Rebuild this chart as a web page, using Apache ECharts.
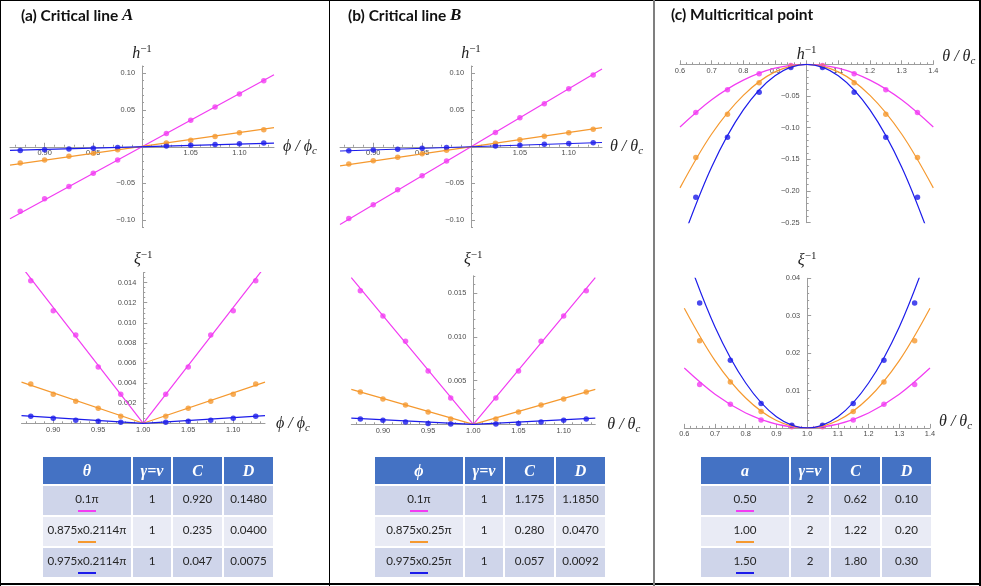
<!DOCTYPE html>
<html>
<head>
<meta charset="utf-8">
<script src="https://cdn.jsdelivr.net/npm/echarts@6/dist/echarts.min.js"></script>
<style>
html, body { margin: 0; padding: 0; background: #fff; }
#page { position: relative; width: 981px; height: 586px; overflow: hidden; background: #fff; }
#chart { position: absolute; left: 0; top: 0; width: 981px; height: 586px; }
.rule { position: absolute; background: #000; }
.tbl { position: absolute; top: 457px; display: grid; grid-template-columns: 88px 38px 49px 49px;
       grid-template-rows: 27px 29px 29px 29px; column-gap: 2px; row-gap: 2px; }
.tbl .hd { background: #4472c4; color: #fff; font-family: "Liberation Serif", serif; font-weight: bold;
           font-style: italic; font-size: 16px; display: flex; align-items: center; justify-content: center; }
.tbl .cell { font-family: Lato, "Open Sans", sans-serif; font-size: 11.6px; color: #262626; text-align: center;
             padding-top: 6px; box-sizing: border-box; line-height: 14px; }
.tbl .bar { width: 18px; height: 2px; margin: 4px auto 0; }
</style>
</head>
<body>
<div id="page">
  <div id="chart"></div>
</div>
<script>
// colours of the three cases
const C_MAG = '#f23cf2';
const C_ORA = '#f5992f';
const C_BLU = '#1c1cea';

// ---- (a) critical line A ----
const ratioAB = [0.875, 0.9, 0.925, 0.95, 0.975, 1.025, 1.05, 1.075, 1.1, 1.125];
const hA_mag = [-0.088, -0.071, -0.054, -0.036, -0.018, 0.018, 0.036, 0.054, 0.072, 0.090];
const hA_ora = [-0.022, -0.018, -0.013, -0.009, -0.004, 0.005, 0.009, 0.014, 0.019, 0.023];
const hA_blu = [-0.005, -0.004, -0.003, -0.002, -0.001, 0.001, 0.002, 0.003, 0.004, 0.005];
const fitEndsA = [0.8645, 1.1355];
const hFitA_mag = [-0.098, 0.098];
const hFitA_ora = [-0.025, 0.026];
const hFitA_blu = [-0.005, 0.005];

const xiA_mag = [0.0142, 0.0112, 0.0088, 0.0056, 0.0029, 0.0029, 0.0056, 0.0088, 0.0112, 0.0142];
const xiA_ora = [0.0039, 0.0029, 0.0022, 0.0015, 0.0007, 0.0007, 0.0015, 0.0022, 0.0029, 0.0039];
const xiA_blu = [0.0007, 0.0005, 0.0003, 0.0002, 0.0001, 0.0001, 0.0002, 0.0003, 0.0005, 0.0007];
const vFitA = [0.8647, 1.0, 1.1353];
const xiFitA_mag = [0.0156, 0, 0.0156];
const xiFitA_ora = [0.0041, 0, 0.0041];
const xiFitA_blu = [0.00076, 0, 0.00076];

// ---- (b) critical line B ----
const hB_mag = [-0.0977, -0.079, -0.0586, -0.0395, -0.0195, 0.0195, 0.0395, 0.0586, 0.079, 0.0977];
const hB_ora = [-0.0236, -0.019, -0.0142, -0.0095, -0.0047, 0.0047, 0.0095, 0.0142, 0.019, 0.0237];
const hB_blu = [-0.0055, -0.0044, -0.0033, -0.0022, -0.0011, 0.0011, 0.0022, 0.0033, 0.0044, 0.0055];
const fitEndsB = [0.866, 1.134];
const hFitB_mag = [-0.106, 0.106];
const hFitB_ora = [-0.026, 0.026];
const hFitB_blu = [-0.0058, 0.0058];

const xiB_mag = [0.0153, 0.0124, 0.0095, 0.0061, 0.0030, 0.0030, 0.0061, 0.0095, 0.0124, 0.0153];
const xiB_ora = [0.0037, 0.0029, 0.0022, 0.0014, 0.0006, 0.0006, 0.0014, 0.0022, 0.0029, 0.0037];
const xiB_blu = [0.0006, 0.00045, 0.00025, 0.0001, 0.00003, 0.00003, 0.0001, 0.00025, 0.00045, 0.0006];
const vFitB = [0.865, 1.0, 1.135];
const xiFitB_mag = [0.0168, 0, 0.0168];
const xiFitB_ora = [0.0040, 0, 0.0040];
const xiFitB_blu = [0.0007, 0, 0.0007];

// ---- (c) multicritical point ----
const ratioC = [0.65, 0.75, 0.85, 0.95, 1.05, 1.15, 1.25, 1.35];
const hC_mag = [-0.076, -0.040, -0.015, -0.002, -0.002, -0.015, -0.040, -0.076];
const hC_ora = [-0.147, -0.079, -0.029, -0.003, -0.003, -0.029, -0.079, -0.147];
const hC_blu = [-0.210, -0.115, -0.044, -0.005, -0.005, -0.044, -0.115, -0.210];
const curveC = [0.6, 0.7, 0.8, 0.9, 1.0, 1.1, 1.2, 1.3, 1.4];
const hCurve_mag = [-0.099, -0.056, -0.025, -0.006, 0, -0.006, -0.025, -0.056, -0.099];
const hCurve_ora = [-0.195, -0.110, -0.049, -0.012, 0, -0.012, -0.049, -0.110, -0.195];
const hCurve_blu = [-0.288, -0.162, -0.072, -0.018, 0, -0.018, -0.072, -0.162, -0.288];

const xiC_mag = [0.0116, 0.0063, 0.0021, 0.0003, 0.0003, 0.0021, 0.0063, 0.0116];
const xiC_ora = [0.0233, 0.0123, 0.0044, 0.0005, 0.0005, 0.0044, 0.0123, 0.0233];
const xiC_blu = [0.0334, 0.0181, 0.0065, 0.0007, 0.0007, 0.0065, 0.0181, 0.0334];
const xiCurve_mag = [0.016, 0.009, 0.004, 0.001, 0, 0.001, 0.004, 0.009, 0.016];
const xiCurve_ora = [0.032, 0.018, 0.008, 0.002, 0, 0.002, 0.008, 0.018, 0.032];
const xiCurve_blu = [0.048, 0.027, 0.012, 0.003, 0, 0.003, 0.012, 0.027, 0.048];

// ---- ticks and tick labels ----
const xTicksAB = [0.90, 0.95, 1.00, 1.05, 1.10];
const xLabelsTopAB = [0.90, 0.95, 1.05, 1.10];
const xLabelsBotAB = [0.90, 0.95, 1.00, 1.05, 1.10];
const yTicksH_AB = [-0.10, -0.05, 0, 0.05, 0.10];
const yLabelsH_AB = [-0.10, -0.05, 0.05, 0.10];
const yTicksXiA = [0, 0.002, 0.004, 0.006, 0.008, 0.010, 0.012, 0.014];
const yLabelsXiA = [0.002, 0.004, 0.006, 0.008, 0.010, 0.012, 0.014];
const yTicksXiB = [0, 0.005, 0.010, 0.015];
const yLabelsXiB = [0.005, 0.010, 0.015];
const xTicksC = [0.6, 0.7, 0.8, 0.9, 1.0, 1.1, 1.2, 1.3, 1.4];
const xLabelsTopC = [0.6, 0.7, 0.8, 0.9, 1.1, 1.2, 1.3, 1.4];
const xLabelsBotC = [0.6, 0.7, 0.8, 0.9, 1.0, 1.1, 1.2, 1.3, 1.4];
const yTicksH_C = [-0.25, -0.20, -0.15, -0.10, -0.05, 0];
const yLabelsH_C = [-0.25, -0.20, -0.15, -0.10, -0.05];
const yTicksXiC = [0, 0.01, 0.02, 0.03, 0.04];
const yLabelsXiC = [0.01, 0.02, 0.03, 0.04];

// ---- tables ----
const tableA_first = ['0.1π', '0.875x0.2114π', '0.975x0.2114π'];
const tableA_gamma = ['1', '1', '1'];
const tableA_C = ['0.920', '0.235', '0.047'];
const tableA_D = ['0.1480', '0.0400', '0.0075'];
const tableB_first = ['0.1π', '0.875x0.25π', '0.975x0.25π'];
const tableB_gamma = ['1', '1', '1'];
const tableB_C = ['1.175', '0.280', '0.057'];
const tableB_D = ['1.1850', '0.0470', '0.0092'];
const tableC_first = ['0.50', '1.00', '1.50'];
const tableC_gamma = ['2', '2', '2'];
const tableC_C = ['0.62', '1.22', '1.80'];
const tableC_D = ['0.10', '0.20', '0.30'];
const rowColors = [C_MAG, C_ORA, C_BLU];

const AXIS_GREY = '#9c9c9c';
const LABEL_GREY = '#4d4d4d';
const SERIF = 'Liberation Serif';

const nameRich = {
  i: { fontFamily: SERIF, fontStyle: 'italic', fontSize: 16, color: '#222', lineHeight: 20, verticalAlign: 'middle' },
  s: { fontFamily: SERIF, fontStyle: 'italic', fontSize: 11, color: '#222', lineHeight: 9, verticalAlign: 'bottom' },
  p: { fontFamily: SERIF, fontSize: 11, color: '#222', lineHeight: 9, verticalAlign: 'top' }
};

function fmtDec(d) {
  return function (v) {
    const s = Math.abs(v).toFixed(d);
    return (v < -1e-9 ? '−' : '') + s;
  };
}

function minorOf(ticks, n, lo, hi) {
  const step = (ticks[1] - ticks[0]) / n;
  const first = ticks[0] - Math.floor((ticks[0] - lo) / step + 1e-9) * step;
  const out = [];
  for (let k = 0; first + k * step <= hi + 1e-9; k++) out.push(first + k * step);
  return out;
}

const grids = [], xAxes = [], yAxes = [], series = [];

function addPanel(p) {
  const gi = grids.length;
  const [gl, gt, gw, gh] = p.grid;
  grids.push({ left: gl, top: gt, width: gw, height: gh, outerBoundsMode: 'none', containLabel: false });
  const xi = xAxes.length, yi = yAxes.length;
  // the axes cross at ratio = 1 and value = 0: move them in from the grid edges
  const yAxisOff = -(1 - p.xRange[0]) / (p.xRange[1] - p.xRange[0]) * gw;
  const xAxisOff = -(0 - p.yRange[0]) / (p.yRange[1] - p.yRange[0]) * gh;
  const xBase = { type: 'value', gridIndex: gi, min: p.xRange[0], max: p.xRange[1], position: 'bottom', offset: xAxisOff,
                  splitLine: { show: false } };
  const yBase = { type: 'value', gridIndex: gi, min: p.yRange[0], max: p.yRange[1], position: 'left', offset: yAxisOff,
                  splitLine: { show: false } };
  xAxes.push(Object.assign({}, xBase, {
    axisLine: { show: true, onZero: false, lineStyle: { color: AXIS_GREY, width: 1 } },
    axisTick: { show: true, inside: true, length: 4, customValues: p.xTicks, lineStyle: { color: AXIS_GREY } },
    axisLabel: { show: true, customValues: p.xLabels, formatter: fmtDec(p.xDec),
                 margin: 3, fontSize: 7.4, color: LABEL_GREY, fontFamily: 'Liberation Sans' },
    name: p.xName, nameLocation: 'end', nameGap: p.xNameGap,
    nameTextStyle: { rich: nameRich, verticalAlign: 'middle', padding: [0, 0, p.xNameLift || 0, 0] }
  }));
  xAxes.push(Object.assign({}, xBase, {
    axisLine: { show: false, onZero: false },
    axisTick: { show: true, inside: true, length: 2, customValues: minorOf(p.xTicks, p.xMinor, p.xRange[0], p.xRange[1]),
                lineStyle: { color: AXIS_GREY } },
    axisLabel: { show: false }
  }));
  yAxes.push(Object.assign({}, yBase, {
    axisLine: { show: true, onZero: false, lineStyle: { color: AXIS_GREY, width: 1 } },
    axisTick: { show: true, inside: true, length: 4, customValues: p.yTicks, lineStyle: { color: AXIS_GREY } },
    axisLabel: { show: true, customValues: p.yLabels, formatter: fmtDec(p.yDec),
                 margin: 7, fontSize: 7.4, color: LABEL_GREY, fontFamily: 'Liberation Sans' },
    name: p.yName, nameLocation: 'end', nameGap: p.yNameGap,
    nameTextStyle: { rich: nameRich }
  }));
  yAxes.push(Object.assign({}, yBase, {
    axisLine: { show: false, onZero: false },
    axisTick: { show: true, inside: true, length: 2, customValues: minorOf(p.yTicks, p.yMinor, p.yRange[0], p.yRange[1]),
                lineStyle: { color: AXIS_GREY } },
    axisLabel: { show: false }
  }));
  p.sets.forEach(function (s) {
    series.push({
      type: 'line', xAxisIndex: xi, yAxisIndex: yi, silent: true, clip: true,
      data: s.fx.map((x, i) => [x, s.fy[i]]),
      symbol: 'none', smooth: s.smooth || false,
      lineStyle: { color: s.color, width: 1.2 }
    });
    series.push({
      type: 'scatter', xAxisIndex: xi, yAxisIndex: yi, silent: true,
      data: s.px.map((x, i) => [x, s.py[i]]),
      symbol: 'circle', symbolSize: 5.5, itemStyle: { color: s.color }
    });
  });
}

const nameRatioPhi = '{i|ϕ / ϕ}{s|c}';
const nameRatioTheta = '{i|θ / θ}{s|c}';
const nameH = '{i|h}{p|−1}';
const nameXi = '{i|ξ}{p|−1}';

// (a) top
addPanel({
  grid: [10, 66, 264, 161.5], xRange: [0.8645, 1.1355], yRange: [-0.11, 0.11],
  xTicks: xTicksAB, xLabels: xLabelsTopAB, xMinor: 5, xDec: 2,
  yTicks: yTicksH_AB, yLabels: yLabelsH_AB, yMinor: 5, yDec: 2,
  xName: nameRatioPhi, xNameGap: 9, yName: nameH, yNameGap: 2,
  sets: [
    { color: C_MAG, fx: fitEndsA, fy: hFitA_mag, px: ratioAB, py: hA_mag },
    { color: C_ORA, fx: fitEndsA, fy: hFitA_ora, px: ratioAB, py: hA_ora },
    { color: C_BLU, fx: fitEndsA, fy: hFitA_blu, px: ratioAB, py: hA_blu }
  ]
});
// (a) bottom
addPanel({
  grid: [21.5, 272.6, 243.5, 150.7], xRange: [0.8647, 1.1353], yRange: [0, 0.015],
  xTicks: xTicksAB, xLabels: xLabelsBotAB, xMinor: 5, xDec: 2,
  yTicks: yTicksXiA, yLabels: yLabelsXiA, yMinor: 4, yDec: 3,
  xName: nameRatioPhi, xNameGap: 11, yName: nameXi, yNameGap: 3,
  sets: [
    { color: C_MAG, fx: vFitA, fy: xiFitA_mag, px: ratioAB, py: xiA_mag },
    { color: C_ORA, fx: vFitA, fy: xiFitA_ora, px: ratioAB, py: xiA_ora },
    { color: C_BLU, fx: vFitA, fy: xiFitA_blu, px: ratioAB, py: xiA_blu }
  ]
});
// (b) top
addPanel({
  grid: [340, 66, 262, 161.5], xRange: [0.866, 1.134], yRange: [-0.11, 0.11],
  xTicks: xTicksAB, xLabels: xLabelsTopAB, xMinor: 5, xDec: 2,
  yTicks: yTicksH_AB, yLabels: yLabelsH_AB, yMinor: 5, yDec: 2,
  xName: nameRatioTheta, xNameGap: 8, yName: nameH, yNameGap: 2,
  sets: [
    { color: C_MAG, fx: fitEndsB, fy: hFitB_mag, px: ratioAB, py: hB_mag },
    { color: C_ORA, fx: fitEndsB, fy: hFitB_ora, px: ratioAB, py: hB_ora },
    { color: C_BLU, fx: fitEndsB, fy: hFitB_blu, px: ratioAB, py: hB_blu }
  ]
});
// (b) bottom
addPanel({
  grid: [351.3, 275.8, 244, 148.5], xRange: [0.865, 1.135], yRange: [0, 0.017],
  xTicks: xTicksAB, xLabels: xLabelsBotAB, xMinor: 5, xDec: 2,
  yTicks: yTicksXiB, yLabels: yLabelsXiB, yMinor: 5, yDec: 3,
  xName: nameRatioTheta, xNameGap: 12, yName: nameXi, yNameGap: 6,
  sets: [
    { color: C_MAG, fx: vFitB, fy: xiFitB_mag, px: ratioAB, py: xiB_mag },
    { color: C_ORA, fx: vFitB, fy: xiFitB_ora, px: ratioAB, py: xiB_ora },
    { color: C_BLU, fx: vFitB, fy: xiFitB_blu, px: ratioAB, py: xiB_blu }
  ]
});
// (c) top
addPanel({
  grid: [680, 64.3, 253.3, 158.4], xRange: [0.6, 1.4], yRange: [-0.25, 0],
  xTicks: xTicksC, xLabels: xLabelsTopC, xMinor: 5, xDec: 1,
  yTicks: yTicksH_C, yLabels: yLabelsH_C, yMinor: 5, yDec: 2,
  xName: nameRatioTheta, xNameGap: 9, xNameLift: 15, yName: nameH, yNameGap: 0,
  sets: [
    { color: C_MAG, fx: curveC, fy: hCurve_mag, px: ratioC, py: hC_mag, smooth: 0.34 },
    { color: C_ORA, fx: curveC, fy: hCurve_ora, px: ratioC, py: hC_ora, smooth: 0.34 },
    { color: C_BLU, fx: curveC, fy: hCurve_blu, px: ratioC, py: hC_blu, smooth: 0.34 }
  ]
});
// (c) bottom
addPanel({
  grid: [684.3, 278.3, 245.7, 149.6], xRange: [0.6, 1.4], yRange: [0, 0.04],
  xTicks: xTicksC, xLabels: xLabelsBotC, xMinor: 5, xDec: 1,
  yTicks: yTicksXiC, yLabels: yLabelsXiC, yMinor: 5, yDec: 2,
  xName: nameRatioTheta, xNameGap: 9, xNameLift: 12, yName: nameXi, yNameGap: 8,
  sets: [
    { color: C_MAG, fx: curveC, fy: xiCurve_mag, px: ratioC, py: xiC_mag, smooth: 0.34 },
    { color: C_ORA, fx: curveC, fy: xiCurve_ora, px: ratioC, py: xiC_ora, smooth: 0.34 },
    { color: C_BLU, fx: curveC, fy: xiCurve_blu, px: ratioC, py: xiC_blu, smooth: 0.34 }
  ]
});

const titleRich = {
  b: { fontFamily: 'Lato', fontWeight: 'bold', fontSize: 15.5, color: '#111' },
  i: { fontFamily: SERIF, fontStyle: 'italic', fontSize: 17, color: '#111' }
};
const panelTitles = [
  { left: 21, text: '{b|(a) Critical line }{i|A}' },
  { left: 348, text: '{b|(b) Critical line }{i|B}' },
  { left: 671, text: '{b|(c) Multicritical point}' }
];

const chart = echarts.init(document.getElementById('chart'), null, { renderer: 'canvas' });
chart.setOption({
  animation: false,
  backgroundColor: '#fff',
  title: panelTitles.map(t => ({ text: t.text, left: t.left, top: 7, padding: 0, textStyle: { rich: titleRich } })),
  grid: grids,
  xAxis: xAxes,
  yAxis: yAxes,
  series: series
});

// frame and panel separators
const page = document.getElementById('page');
function rule(l, t, w, h, c) {
  const d = document.createElement('div');
  d.className = 'rule';
  d.style.left = l + 'px'; d.style.top = t + 'px'; d.style.width = w + 'px'; d.style.height = h + 'px';
  d.style.background = c || '#000';
  page.appendChild(d);
}
rule(0, 0, 981, 1);
rule(0, 0, 1, 586);
rule(979, 0, 2, 586);
rule(0, 583, 981, 2);
rule(329, 0, 1, 586);
rule(653, 0, 2, 586, '#7f7f7f');

// parameter tables
function buildTable(left, head, first, gamma, cc, dd) {
  const t = document.createElement('div');
  t.className = 'tbl';
  t.style.left = left + 'px';
  [head, 'γ=ν', 'C', 'D'].forEach(function (h) {
    const c = document.createElement('div');
    c.className = 'hd';
    c.textContent = h;
    t.appendChild(c);
  });
  for (let r = 0; r < 3; r++) {
    const bg = r % 2 === 0 ? '#cfd5ea' : '#e9ebf5';
    [first[r], gamma[r], cc[r], dd[r]].forEach(function (txt, k) {
      const c = document.createElement('div');
      c.className = 'cell';
      c.style.background = bg;
      const s = document.createElement('div');
      s.textContent = txt;
      c.appendChild(s);
      if (k === 0) {
        const b = document.createElement('div');
        b.className = 'bar';
        b.style.background = rowColors[r];
        c.appendChild(b);
      }
      t.appendChild(c);
    });
  }
  page.appendChild(t);
}
buildTable(43, 'θ', tableA_first, tableA_gamma, tableA_C, tableA_D);
buildTable(375, 'ϕ', tableB_first, tableB_gamma, tableB_C, tableB_D);
buildTable(701, 'a', tableC_first, tableC_gamma, tableC_C, tableC_D);
</script>
</body>
</html>
